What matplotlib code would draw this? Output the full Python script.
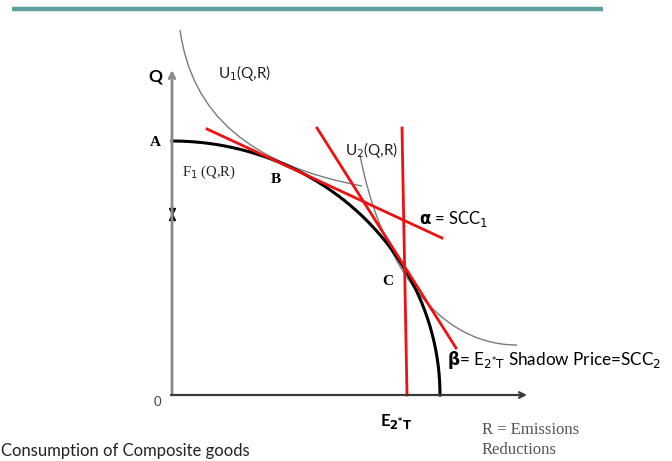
import numpy as np
import matplotlib
matplotlib.use("Agg")
import matplotlib.pyplot as plt
from matplotlib.path import Path
from matplotlib.patches import PathPatch

# diagram laid out in picture units (x right, y down)
origin = (172, 395)
q_top = 70          # end of Q axis arrow
r_end = 527         # end of R axis arrow
a_height = 254      # frontier intercept on Q axis (point A)
r_width = 268       # frontier intercept on R axis

# indifference curves, cubic bezier control points
u1_ctrl = [(180, 30), (192, 115), (250, 165), (362, 186)]
u2_ctrl = [(360, 155), (378, 250), (430, 345), (517, 345)]

# the price lines (start, end)
alpha_line = [(207, 129), (442, 238)]
steep_line = [(317, 128), (456, 348)]
beta_line = [(402, 128), (407, 395)]

sans = ["Lato", "DejaVu Sans"]
serif = ["Liberation Serif", "DejaVu Serif"]

fig = plt.figure(figsize=(6.72, 4.61), dpi=100)
ax = fig.add_axes([0, 0, 1, 1])
ax.set_xlim(0, 672)
ax.set_ylim(461, 0)
ax.axis("off")

# header rule
ax.plot([12, 603], [9, 9], color="#5f9ea0", lw=3.2, solid_capstyle="butt")

# axes
ax.annotate("", xy=(origin[0], q_top), xytext=(origin[0], origin[1]),
            arrowprops=dict(arrowstyle="->", color="#8a8a8a", lw=2, shrinkA=0, shrinkB=0))
ax.annotate("", xy=(r_end, origin[1]), xytext=(origin[0] - 1, origin[1]),
            arrowprops=dict(arrowstyle="->", color="#3a3a3a", lw=1.6, shrinkA=0, shrinkB=0))
ax.plot([origin[0]], [211], marker="v", color="black", ms=4)
ax.plot([origin[0]], [217], marker="^", color="black", ms=4)

# production frontier F1 (quarter ellipse through A and the R intercept)
t = np.linspace(0, np.pi / 2, 200)
ax.plot(origin[0] + r_width * np.sin(t), origin[1] - a_height * np.cos(t),
        color="black", lw=2.2)

# indifference curves
codes = [Path.MOVETO, Path.CURVE4, Path.CURVE4, Path.CURVE4]
for ctrl in (u1_ctrl, u2_ctrl):
    ax.add_patch(PathPatch(Path(ctrl, codes), fill=False, ec="#7a7a7a", lw=1.0))

# red price lines
for ln in (alpha_line, steep_line, beta_line):
    xs, ys = zip(*ln)
    ax.plot(xs, ys, color="#ee1111", lw=2)

# labels
ax.text(148, 76, "Q", fontsize=12.5, fontweight="bold", family=sans, va="center")
ax.text(150, 142, "A", fontsize=11, fontweight="bold", family=serif, va="center")
ax.text(182, 172, "F$_1$ (Q,R)", fontsize=10.5, family=serif, va="center", color="#222222")
ax.text(271, 179, "B", fontsize=11, fontweight="bold", family=serif, va="center")
ax.text(218, 73, "U$_1$(Q,R)", fontsize=11, family=sans, va="center", color="#222222")
ax.text(345, 150, "U$_2$(Q,R)", fontsize=11, family=sans, va="center", color="#222222")
ax.text(419, 219, r"$\mathbf{\alpha}$ = SCC$_1$", fontsize=12, family=sans, va="center")
ax.text(382, 281, "C", fontsize=11, fontweight="bold", family=serif, va="center")
ax.text(447, 360, r"$\mathbf{\beta}$= E$_{2^{*}\mathrm{T}}$ Shadow Price=SCC$_2$",
        fontsize=12.3, family=sans, va="center")
ax.text(380, 421, r"E$_{\mathbf{2^{*}T}}$", fontsize=12, fontweight="bold",
        family=sans, va="center")
ax.text(154, 402, "0", fontsize=9.5, family=sans, va="center", color="#444444")
ax.text(482, 430, "R = Emissions", fontsize=12, family=serif, va="center", color="#555555")
ax.text(482, 450, "Reductions", fontsize=12, family=serif, va="center", color="#555555")
ax.text(1, 451, "Consumption of Composite goods", fontsize=12, family=sans,
        va="center", color="#222222")

fig.savefig("out.png", dpi=100)
